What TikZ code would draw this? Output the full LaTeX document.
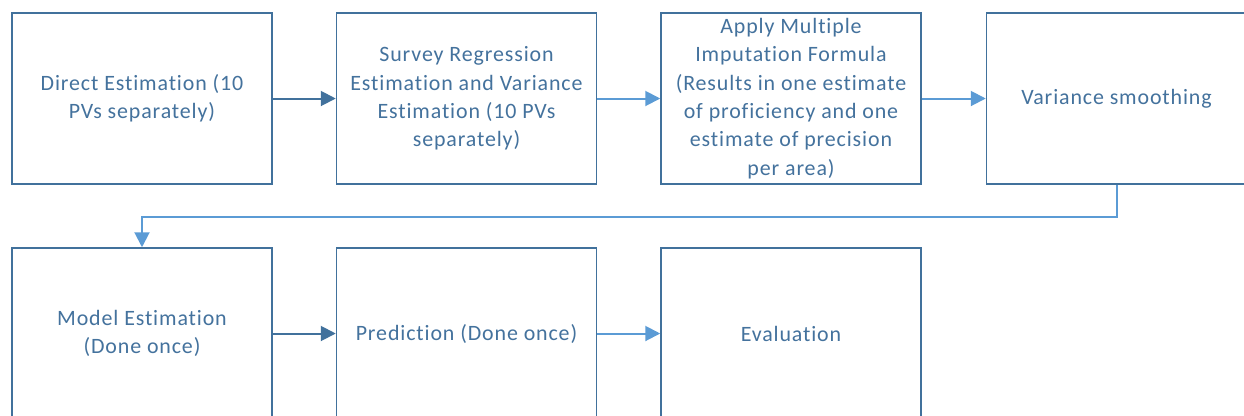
\documentclass[tikz,border=0pt]{standalone}
\usepackage{fontspec}
\setmainfont{Carlito}[LetterSpace=4,Ligatures={NoCommon}]
\usetikzlibrary{arrows.meta}
\definecolor{dkblue}{HTML}{41719C}
\definecolor{ltblue}{HTML}{5B9BD5}
\definecolor{txtblue}{HTML}{44729D}
\tikzset{
  stepbox/.style={draw=dkblue, line width=1.5bp, fill=white, minimum width=260bp, minimum height=171bp,
    inner sep=0pt, align=center, text=txtblue, font=\fontsize{22}{28.4}\selectfont},
  darrow/.style={draw=dkblue, line width=2bp, -{Triangle[length=15bp,width=15bp]}},
  larrow/.style={draw=ltblue, line width=2bp, -{Triangle[length=15bp,width=15bp]}}
}
\begin{document}
\begin{tikzpicture}[x=1bp,y=-1bp]
\useasboundingbox (0,0) rectangle (1244,415);
\clip (0,0) rectangle (1244,415);
\node[stepbox] (b1) at (142,98.5) {Direct Estimation (10\\PVs separately)};
\node[stepbox] (b2) at (466.5,98.5) {Survey Regression\\Estimation and Variance\\Estimation (10 PVs\\separately)};
\node[stepbox] (b3) at (791,98.5) {Apply Multiple\\Imputation Formula\\(Results in one estimate\\of proficiency and one\\estimate of precision\\per area)};
\node[stepbox] (b4) at (1116.5,98.5) {Variance smoothing};
\node[stepbox] (b5) at (142,333.5) {Model Estimation\\(Done once)};
\node[stepbox] (b6) at (466.5,333.5) {Prediction (Done once)};
\node[stepbox] (b7) at (791,333.5) {Evaluation};
\draw[darrow] (b1.east) -- (b2.west);
\draw[larrow] (b2.east) -- (b3.west);
\draw[larrow] (b3.east) -- (b4.west);
\draw[larrow] (b4.south) -- ++(0,32) -| (b5.north);
\draw[darrow] (b5.east) -- (b6.west);
\draw[larrow] (b6.east) -- (b7.west);
\end{tikzpicture}
\end{document}
